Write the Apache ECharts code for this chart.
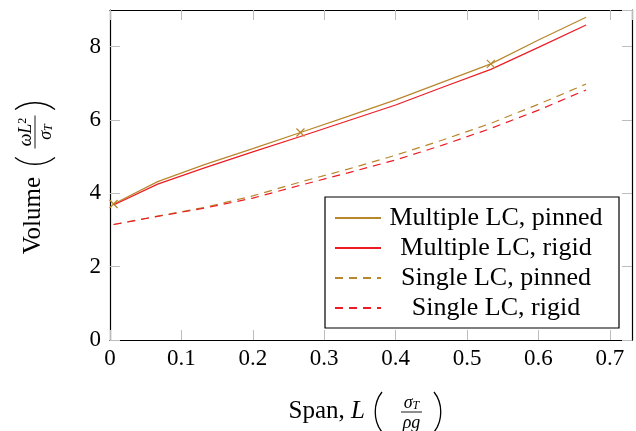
<!DOCTYPE html>
<html>
<head>
<meta charset="utf-8">
<script src="https://cdn.jsdelivr.net/npm/echarts@6/dist/echarts.min.js"></script>
<style>
html, body { margin: 0; padding: 0; background: #fff; }
#main { width: 636px; height: 431px; }
</style>
</head>
<body>
<div id="main"></div>
<script>
// span values (x) shared by all four curves
const spanX = [0.005, 0.0667, 0.1333, 0.2, 0.2667, 0.3333, 0.4, 0.4667, 0.5333, 0.6, 0.6667]
const multiPinned = [3.71, 4.32, 4.79, 5.22, 5.66, 6.10, 6.55, 7.04, 7.53, 8.18, 8.80]
const multiRigid = [3.68, 4.25, 4.70, 5.13, 5.55, 5.98, 6.41, 6.90, 7.38, 7.98, 8.59]
const singlePinned = [3.15, 3.38, 3.62, 3.93, 4.31, 4.66, 5.04, 5.46, 5.91, 6.43, 6.98]
const singleRigid = [3.15, 3.37, 3.60, 3.87, 4.22, 4.56, 4.91, 5.32, 5.77, 6.27, 6.82]
const markedIdx = [0, 4, 8]
const seriesNames = ['Multiple LC, pinned', 'Multiple LC, rigid', 'Single LC, pinned', 'Single LC, rigid']
const xTickLabels = ['0', '0.1', '0.2', '0.3', '0.4', '0.5', '0.6', '0.7']
const yTickLabels = ['0', '2', '4', '6', '8']

const serif = '"Liberation Serif", "Times New Roman", serif'
const gold = '#b8862b'
const red = '#ec1c24'
const tickGray = '#bdbdbd'
const crossPath = 'path://M0,0L10,10M10,0L0,10'

const pairs = (ys) => spanX.map((x, i) => [x, ys[i]])

// big parenthesis drawn as a curve, x0 = left edge, dir = 1 for "(" and -1 for ")"
function paren(x0, dir) {
  const tip = dir > 0 ? x0 + 9 : x0 + 1
  const belly = dir > 0 ? x0 : x0 + 10
  return {
    type: 'bezierCurve',
    shape: { x1: tip, y1: -20, cpx1: belly, cpy1: -9, cpx2: belly, cpy2: 9, x2: tip, y2: 20 },
    style: { stroke: '#000', lineWidth: 1.3, fill: null }
  }
}

const mathRich = {
  n: { fontFamily: serif, fontSize: 25, fill: '#000' },
  i: { fontFamily: serif, fontSize: 25, fontStyle: 'italic', fill: '#000' },
  m: { fontFamily: serif, fontSize: 18, fontStyle: 'italic', fill: '#000' },
  sub: { fontFamily: serif, fontSize: 12, fontStyle: 'italic', fill: '#000', verticalAlign: 'bottom' },
  sup: { fontFamily: serif, fontSize: 12, fill: '#000', verticalAlign: 'top' }
}

function mathTitle(x, y, rotation, main, num, den, g) {
  const txt = (text, tx, ty, align) => ({
    type: 'text',
    x: tx,
    y: ty,
    style: { text: text, rich: mathRich, align: align, verticalAlign: 'middle' }
  })
  const cx = (g.bar1 + g.bar2) / 2
  return {
    type: 'group',
    x: x,
    y: y,
    rotation: rotation,
    silent: true,
    children: [
      txt(main, g.mainRight, g.mainY, 'right'),
      paren(g.pl, 1),
      { type: 'line', shape: { x1: g.bar1, y1: 0, x2: g.bar2, y2: 0 }, style: { stroke: '#000', lineWidth: 0.9 } },
      txt(num, cx, -9, 'center'),
      txt(den, cx, 11, 'center'),
      paren(g.pr, -1)
    ]
  }
}

const myChart = echarts.init(document.getElementById('main'), null, { renderer: 'canvas' })

const baseX = {
  type: 'value',
  min: 0,
  max: 0.731,
  interval: 0.1,
  splitLine: { show: false },
  axisLine: { show: true, onZero: false, lineStyle: { color: '#000', width: 1.2 } },
  axisTick: { show: true, inside: true, length: 10, lineStyle: { color: tickGray, width: 1 } }
}
const baseY = {
  type: 'value',
  min: 0,
  max: 9,
  interval: 2,
  splitLine: { show: false },
  axisLine: { show: true, onZero: false, lineStyle: { color: '#000', width: 1.2 } },
  axisTick: { show: true, inside: true, length: 10, lineStyle: { color: tickGray, width: 1 } }
}

const lineSeries = (name, ys, color, dashed, marked) => ({
  name: name,
  type: 'line',
  data: pairs(ys).map((p, i) => (marked && markedIdx.includes(i)
    ? { value: p, symbol: crossPath, symbolSize: 8, itemStyle: { color: 'transparent', borderColor: color, borderWidth: 1.2 } }
    : { value: p })),
  symbol: 'none',
  showSymbol: true,
  showAllSymbol: true,
  lineStyle: { color: color, width: 1.2, type: dashed ? [8, 6] : 'solid' },
  itemStyle: { color: 'transparent', borderColor: 'transparent', borderWidth: 0 },
  emphasis: { disabled: true },
  z: 3
})

myChart.setOption({
  animation: false,
  backgroundColor: '#fff',
  textStyle: { fontFamily: serif },
  grid: { left: 110, right: 4, top: 10, bottom: 91, containLabel: false, outerBoundsMode: 'none' },
  xAxis: [
    Object.assign({}, baseX, {
      position: 'bottom',
      axisLabel: {
        show: true,
        showMaxLabel: false,
        margin: 7,
        color: '#000',
        fontSize: 23,
        fontFamily: serif,
        formatter: (v) => {
          const i = Math.round(v * 10)
          return Math.abs(v * 10 - i) < 1e-6 && xTickLabels[i] !== undefined ? xTickLabels[i] : ''
        }
      }
    }),
    Object.assign({}, baseX, { position: 'top', axisLabel: { show: false } })
  ],
  yAxis: [
    Object.assign({}, baseY, {
      position: 'left',
      axisLabel: {
        show: true,
        showMaxLabel: false,
        margin: 9,
        color: '#000',
        fontSize: 23,
        fontFamily: serif,
        formatter: (v) => {
          const i = Math.round(v / 2)
          return Math.abs(v / 2 - i) < 1e-6 && yTickLabels[i] !== undefined ? yTickLabels[i] : ''
        }
      }
    }),
    Object.assign({}, baseY, { position: 'right', axisLabel: { show: false } })
  ],
  legend: {
    orient: 'vertical',
    left: 325,
    top: 197,
    padding: [8, 13, 7, 9],
    itemGap: 4,
    itemWidth: 46,
    itemHeight: 14,
    selectedMode: false,
    backgroundColor: '#fff',
    borderColor: '#000',
    borderWidth: 1.2,
    borderRadius: 0,
    itemStyle: { color: 'transparent', borderColor: 'transparent', borderWidth: 0, opacity: 0 },
    data: seriesNames,
    formatter: (name) => '{c|' + name + '}',
    textStyle: {
      rich: {
        c: { width: 220, align: 'center', fontSize: 26, lineHeight: 24, fontFamily: serif, color: '#000' }
      }
    },
    z: 10
  },
  series: [
    lineSeries(seriesNames[0], multiPinned, gold, false, true),
    lineSeries(seriesNames[1], multiRigid, red, false, false),
    lineSeries(seriesNames[2], singlePinned, gold, true, false),
    lineSeries(seriesNames[3], singleRigid, red, true, false)
  ],
  graphic: [
    mathTitle(373, 412, 0, '{n|Span, }{i|L}', '{m|σ}{sub|T}', '{m|ρg}',
      { mainRight: -8, mainY: -1, pl: 0, bar1: 28, bar2: 49, pr: 60 }),
    mathTitle(35, 178.5, Math.PI / 2, '{n|Volume}', '{m|ωL}{sup|2}', '{m|σ}{sub|T}',
      { mainRight: 1.5, mainY: -1.5, pl: 12, bar1: 30, bar2: 63, pr: 68 })
  ]
})
</script>
</body>
</html>
